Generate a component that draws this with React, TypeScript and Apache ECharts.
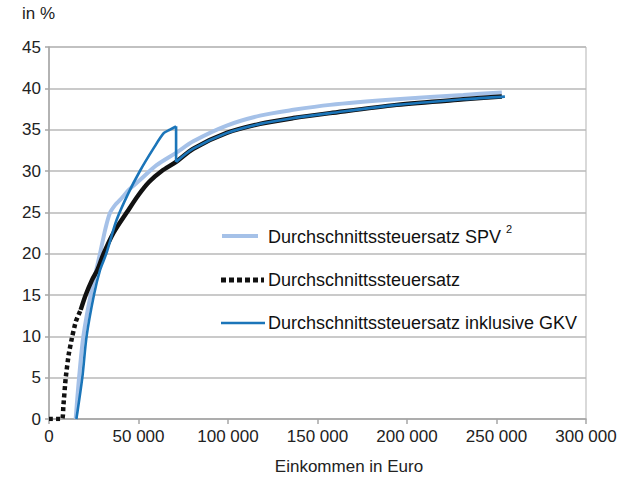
import React, { useEffect, useRef } from "react";
import * as echarts from "echarts";

// Income in Euro / average tax rate in %
const spvIncome = [14900, 16800, 19200, 23300, 28500, 31500, 34000, 37000, 39700, 45000, 50800, 60100, 71000, 80600, 99300, 117900, 136500, 157000, 194200, 231500, 253000];
const spvRate = [0, 5, 10, 15, 20, 23, 24.9, 25.9, 26.5, 27.8, 28.9, 30.7, 32.2, 33.6, 35.5, 36.7, 37.4, 38.0, 38.67, 39.2, 39.5];

const taxLowIncome = [0, 7300, 8000, 9300, 11000, 13000, 15000, 17700];
const taxLowRate = [0, 0, 1.5, 4.9, 7.8, 10.0, 11.8, 13.2];
const taxIncome = [17700, 20500, 24000, 27000, 30500, 36000, 43500, 50000, 56000, 63000, 71000, 80600, 99300, 117900, 136500, 157000, 194200, 231500, 253000];
const taxRate = [13.2, 15, 16.8, 18, 20, 22.5, 25, 27.1, 28.7, 30, 31.1, 32.7, 34.6, 35.7, 36.4, 37.0, 38.0, 38.67, 39.0];

const gkvRiseIncome = [15300, 18600, 21000, 25100, 28500, 32000, 37800, 44300, 50800, 58300, 64200, 67600, 71000];
const gkvRiseRate = [0, 5, 10, 15, 18, 20, 24.1, 27.3, 30.0, 32.7, 34.6, 35.0, 35.4];
const gkvDropIncome = [71000, 71000];
const gkvDropRate = [35.4, 31.1];
const gkvHighIncome = [71000, 80600, 99300, 117900, 136500, 157000, 194200, 231500, 254700];
const gkvHighRate = [31.1, 32.7, 34.6, 35.7, 36.4, 37.0, 38.0, 38.67, 39.0];

const legendLabels = ["Durchschnittssteuersatz SPV", "Durchschnittssteuersatz", "Durchschnittssteuersatz inklusive GKV"];
const yAxisTitle = "in %";
const xAxisTitle = "Einkommen in Euro";

const zip = (xs: number[], ys: number[]) => xs.map((x, i) => [x, ys[i]]);

const FONT = "'Liberation Sans', Arial, Helvetica, sans-serif";
const C_SPV = "#a5c1e8";
const C_TAX = "#111111";
const C_GKV = "#1b75b9";

const lineSeries = (name: string, data: number[][], color: string, width: number, z: number, extra: any = {}, smooth: any = 0.3) => ({
  type: "line",
  name,
  data,
  showSymbol: false,
  symbol: "none",
  smooth,
  lineStyle: { color, width, ...extra },
  z,
});

export default function App() {
  const ref = useRef<HTMLDivElement>(null);
  useEffect(() => {
    if (!ref.current) return;
    const chart = echarts.init(ref.current, null, { renderer: "svg" });
    chart.setOption({
      animation: false,
      grid: { left: 49, right: 47, top: 47, bottom: 59, show: true, borderColor: "#b3b3b3", borderWidth: 1 },
      xAxis: {
        type: "value",
        min: 0,
        max: 300000,
        interval: 50000,
        axisLine: { show: true, lineStyle: { color: "#a6a6a6", width: 1.5 } },
        axisTick: { show: true, length: 5, lineStyle: { color: "#a6a6a6", width: 1.5 } },
        splitLine: { show: false },
        axisLabel: {
          color: "#222",
          fontSize: 17,
          fontFamily: FONT,
          margin: 9,
          formatter: (v: number) => String(v).replace(/\B(?=(\d{3})+(?!\d))/g, " "),
        },
      },
      yAxis: {
        type: "value",
        min: 0,
        max: 45,
        interval: 5,
        axisLine: { show: true, lineStyle: { color: "#a6a6a6", width: 1.5 } },
        axisTick: { show: true, length: 4, lineStyle: { color: "#a6a6a6", width: 1.5 } },
        splitLine: { show: true, lineStyle: { color: "#b8b8b8", width: 1.5 } },
        axisLabel: { color: "#222", fontSize: 17, fontFamily: FONT, margin: 8 },
      },
      series: [
        lineSeries(legendLabels[0], zip(spvIncome, spvRate), C_SPV, 4, 1),
        lineSeries(legendLabels[1], zip(taxLowIncome, taxLowRate), C_TAX, 4.5, 2, { type: [4, 3] }, 0.15),
        lineSeries(legendLabels[1] + " ", zip(taxIncome, taxRate), C_TAX, 4.5, 2),
        lineSeries(legendLabels[2], zip(gkvRiseIncome, gkvRiseRate), C_GKV, 2.6, 3),
        lineSeries(legendLabels[2] + " ", zip(gkvDropIncome, gkvDropRate), C_GKV, 2.6, 3, {}, false),
        lineSeries(legendLabels[2] + "  ", zip(gkvHighIncome, gkvHighRate), C_GKV, 2.6, 3),
      ],
      graphic: [
        { type: "text", left: 22, top: 5, style: { text: yAxisTitle, fontSize: 17, fontFamily: FONT, fill: "#222" } },
        { type: "text", x: 349, y: 466, style: { text: xAxisTitle, fontSize: 17, fontFamily: FONT, fill: "#222", align: "center", verticalAlign: "middle" } },
        { type: "line", shape: { x1: 222, y1: 236, x2: 258, y2: 236 }, style: { stroke: C_SPV, lineWidth: 4 } },
        { type: "text", x: 268, y: 237, style: { text: legendLabels[0], fontSize: 18, fontFamily: FONT, fill: "#111", verticalAlign: "middle" } },
        { type: "text", x: 506, y: 229, style: { text: "2", fontSize: 11, fontFamily: FONT, fill: "#111", verticalAlign: "middle" } },
        { type: "line", shape: { x1: 221, y1: 280, x2: 264, y2: 280 }, style: { stroke: C_TAX, lineWidth: 5, lineDash: [5, 3] } },
        { type: "text", x: 268, y: 280, style: { text: legendLabels[1], fontSize: 18, fontFamily: FONT, fill: "#111", verticalAlign: "middle" } },
        { type: "line", shape: { x1: 221, y1: 323, x2: 265, y2: 323 }, style: { stroke: C_GKV, lineWidth: 2.6 } },
        { type: "text", x: 268, y: 323, style: { text: legendLabels[2], fontSize: 18, fontFamily: FONT, fill: "#111", verticalAlign: "middle" } },
      ],
    });
    return () => chart.dispose();
  }, []);
  return <div ref={ref} style={{ width: 633, height: 478, position: "absolute", left: 0, top: 0 }} />;
}
